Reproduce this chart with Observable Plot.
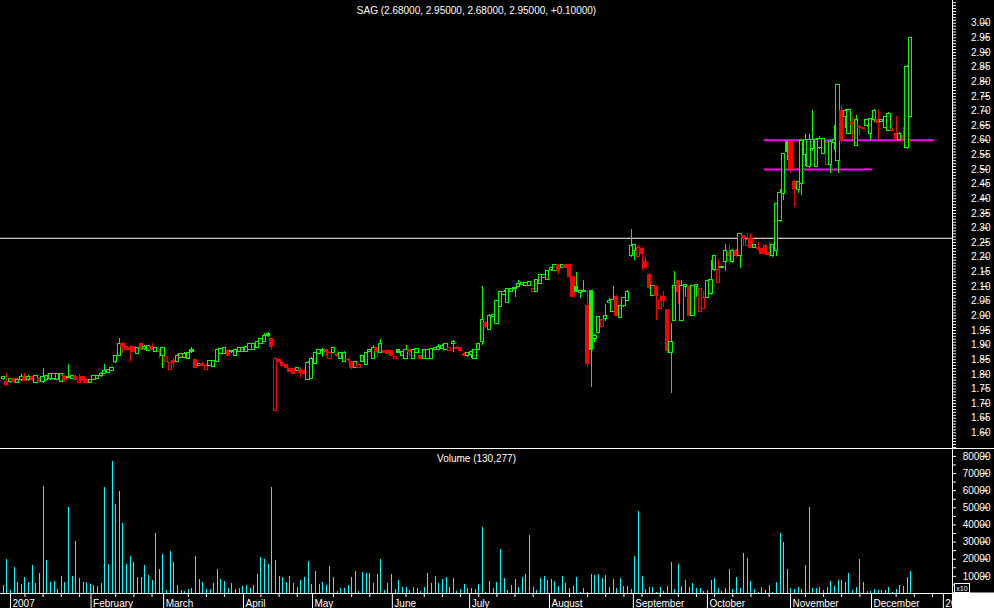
<!DOCTYPE html>
<html><head><meta charset="utf-8">
<script src="https://cdn.jsdelivr.net/npm/d3@7"></script>
<script src="https://cdn.jsdelivr.net/npm/@observablehq/plot@0.6"></script>
<style>
html,body{margin:0;padding:0;background:#000;}
#chart{width:994px;height:608px;overflow:hidden;background:#000;}
#chart svg{display:block;max-width:none;}
</style></head><body><div id="chart"></div><script>
// ---- data ----
const titleText = "SAG (2.68000, 2.95000, 2.68000, 2.95000, +0.10000)";
const volumeTitle = "Volume (130,277)";
// daily candles: [open, high, low, close], one per trading day
const candles = [
[1.785,1.792,1.780,1.790],[1.775,1.802,1.760,1.765],[1.775,1.787,1.770,1.785],[1.783,1.786,1.770,1.775],[1.772,1.785,1.770,1.782],
[1.780,1.800,1.775,1.790],[1.790,1.802,1.774,1.776],[1.780,1.795,1.775,1.790],[1.790,1.792,1.775,1.780],[1.770,1.797,1.768,1.795],
[1.785,1.790,1.770,1.775],[1.775,1.820,1.770,1.790],[1.780,1.797,1.778,1.795],[1.785,1.802,1.780,1.800],[1.785,1.802,1.780,1.800],
[1.780,1.800,1.778,1.800],[1.775,1.800,1.774,1.800],[1.790,1.797,1.773,1.780],[1.788,1.833,1.786,1.790],[1.785,1.797,1.783,1.795],
[1.790,1.795,1.778,1.780],[1.770,1.800,1.768,1.778],[1.790,1.792,1.770,1.776],[1.780,1.782,1.770,1.772],[1.770,1.782,1.768,1.780],
[1.780,1.797,1.778,1.795],[1.785,1.797,1.783,1.795],[1.795,1.805,1.790,1.802],[1.800,1.835,1.798,1.810],[1.805,1.818,1.802,1.815],
[1.813,1.825,1.811,1.822],[1.841,1.866,1.838,1.864],[1.864,1.921,1.862,1.904],[1.904,1.910,1.870,1.893],[1.893,1.896,1.880,1.884],
[1.890,1.898,1.841,1.882],[1.893,1.895,1.876,1.878],[1.870,1.892,1.868,1.890],[1.902,1.904,1.880,1.882],[1.885,1.898,1.883,1.895],
[1.880,1.897,1.878,1.896],[1.893,1.904,1.880,1.882],[1.875,1.892,1.873,1.890],[1.880,1.884,1.853,1.878],[1.864,1.892,1.820,1.890],
[1.842,1.862,1.840,1.860],[1.815,1.842,1.812,1.840],[1.845,1.853,1.824,1.838],[1.841,1.867,1.839,1.864],[1.855,1.872,1.853,1.870],
[1.855,1.873,1.853,1.871],[1.853,1.874,1.851,1.872],[1.884,1.890,1.872,1.875],[1.850,1.852,1.820,1.822],[1.830,1.838,1.828,1.836],
[1.836,1.840,1.826,1.830],[1.815,1.832,1.812,1.828],[1.830,1.846,1.828,1.845],[1.824,1.848,1.822,1.846],[1.841,1.886,1.839,1.884],
[1.870,1.888,1.868,1.886],[1.870,1.892,1.868,1.890],[1.881,1.884,1.862,1.864],[1.875,1.882,1.872,1.880],[1.864,1.886,1.862,1.884],
[1.878,1.892,1.876,1.889],[1.878,1.893,1.876,1.890],[1.875,1.894,1.873,1.892],[1.884,1.906,1.882,1.904],[1.884,1.906,1.882,1.905],
[1.890,1.912,1.888,1.910],[1.904,1.922,1.902,1.921],[1.910,1.940,1.908,1.930],[1.937,1.942,1.926,1.932],[1.921,1.924,1.880,1.893],
[1.676,1.857,1.674,1.853],[1.849,1.851,1.836,1.842],[1.838,1.840,1.828,1.830],[1.833,1.835,1.820,1.822],[1.818,1.820,1.805,1.807],
[1.818,1.820,1.798,1.800],[1.810,1.825,1.808,1.823],[1.815,1.825,1.785,1.805],[1.810,1.815,1.798,1.800],[1.780,1.845,1.778,1.840],
[1.785,1.856,1.783,1.853],[1.836,1.874,1.834,1.872],[1.870,1.886,1.868,1.884],[1.880,1.888,1.856,1.884],[1.884,1.886,1.862,1.875],
[1.853,1.875,1.850,1.872],[1.872,1.893,1.870,1.891],[1.870,1.880,1.862,1.864],[1.853,1.874,1.851,1.872],[1.842,1.878,1.840,1.873],
[1.850,1.853,1.842,1.848],[1.842,1.844,1.815,1.822],[1.822,1.844,1.820,1.842],[1.822,1.834,1.820,1.832],[1.842,1.866,1.840,1.864],
[1.832,1.874,1.830,1.872],[1.876,1.886,1.874,1.884],[1.853,1.900,1.851,1.891],[1.890,1.893,1.856,1.875],[1.872,1.918,1.870,1.904],
[1.881,1.883,1.870,1.872],[1.880,1.885,1.868,1.870],[1.881,1.883,1.860,1.862],[1.853,1.862,1.851,1.860],[1.884,1.886,1.871,1.873],
[1.862,1.878,1.860,1.876],[1.853,1.900,1.851,1.884],[1.884,1.886,1.860,1.875],[1.853,1.886,1.851,1.884],[1.872,1.888,1.870,1.886],
[1.864,1.866,1.851,1.853],[1.853,1.886,1.851,1.884],[1.853,1.886,1.851,1.884],[1.853,1.886,1.851,1.885],[1.884,1.893,1.882,1.890],
[1.884,1.901,1.882,1.895],[1.887,1.901,1.885,1.896],[1.884,1.906,1.882,1.904],[1.881,1.893,1.879,1.891],[1.904,1.914,1.876,1.912],
[1.890,1.895,1.884,1.886],[1.891,1.893,1.879,1.881],[1.870,1.875,1.862,1.864],[1.861,1.874,1.859,1.872],[1.865,1.878,1.853,1.876],
[1.853,1.886,1.851,1.884],[1.884,1.906,1.882,1.904],[1.910,2.100,1.900,1.984],[1.975,1.980,1.958,1.961],[1.952,2.003,1.950,2.001],
[1.995,2.005,1.993,2.003],[1.972,2.054,1.970,2.052],[2.029,2.083,2.027,2.081],[2.070,2.085,2.068,2.082],[2.043,2.094,2.041,2.092],
[2.081,2.094,2.079,2.093],[2.090,2.098,2.064,2.096],[2.100,2.121,2.098,2.109],[2.105,2.115,2.103,2.113],[2.103,2.115,2.100,2.113],
[2.103,2.115,2.100,2.114],[2.081,2.094,2.079,2.092],[2.081,2.125,2.079,2.123],[2.109,2.140,2.107,2.138],[2.130,2.141,2.128,2.139],
[2.123,2.155,2.121,2.153],[2.155,2.166,2.153,2.164],[2.153,2.174,2.151,2.172],[2.172,2.175,2.140,2.153],[2.164,2.177,2.162,2.175],
[2.172,2.174,2.162,2.164],[2.172,2.174,2.130,2.132],[2.132,2.134,2.062,2.064],[2.100,2.149,2.078,2.081],[2.078,2.086,2.060,2.084],
[2.082,2.121,2.080,2.085],[2.032,2.086,1.825,1.836],[2.084,2.086,1.756,1.884],[1.920,1.935,1.910,1.930],[1.941,1.997,1.939,1.995],
[1.963,1.986,1.961,1.984],[1.990,2.040,1.980,2.001],[2.043,2.060,2.041,2.052],[2.012,2.100,2.010,2.053],[2.064,2.070,1.999,2.001],
[1.993,2.034,1.991,2.032],[2.032,2.063,2.030,2.061],[2.052,2.085,2.050,2.083],[2.203,2.294,2.200,2.240],[2.223,2.245,2.190,2.243],
[2.200,2.240,2.198,2.232],[2.229,2.232,2.155,2.212],[2.183,2.200,2.160,2.164],[2.141,2.143,2.090,2.095],[2.069,2.105,2.065,2.103],
[2.100,2.102,1.984,2.069],[2.024,2.070,2.020,2.052],[2.063,2.083,2.030,2.049],[2.020,2.022,1.870,1.881],[1.872,1.972,1.735,1.912],
[1.982,2.151,1.980,2.101],[2.120,2.122,2.040,2.080],[1.982,2.120,1.980,2.103],[2.098,2.105,2.063,2.104],[2.100,2.103,1.998,2.001],
[1.999,2.105,1.997,2.103],[2.100,2.105,2.063,2.104],[2.012,2.095,2.010,2.092],[2.024,2.083,2.020,2.061],[2.061,2.122,2.059,2.120],
[2.073,2.189,2.070,2.121],[2.155,2.205,2.150,2.203],[2.111,2.191,2.109,2.155],[2.164,2.170,2.160,2.166],[2.183,2.243,2.152,2.223],
[2.215,2.243,2.172,2.205],[2.183,2.225,2.180,2.223],[2.223,2.225,2.200,2.203],[2.203,2.282,2.163,2.280],[2.273,2.275,2.238,2.262],
[2.240,2.280,2.238,2.258],[2.263,2.280,2.230,2.232],[2.232,2.245,2.230,2.243],[2.232,2.250,2.220,2.228],[2.229,2.231,2.210,2.212],
[2.240,2.245,2.205,2.210],[2.215,2.250,2.200,2.209],[2.203,2.245,2.200,2.243],[2.221,2.385,2.203,2.383],[2.323,2.430,2.320,2.420],
[2.417,2.556,2.394,2.554],[2.593,2.597,2.530,2.560],[2.593,2.595,2.485,2.502],[2.459,2.461,2.371,2.434],[2.430,2.459,2.417,2.457],
[2.451,2.601,2.411,2.599],[2.550,2.620,2.510,2.600],[2.510,2.620,2.505,2.600],[2.570,2.700,2.560,2.601],[2.510,2.605,2.508,2.602],
[2.574,2.613,2.570,2.603],[2.553,2.605,2.550,2.604],[2.514,2.600,2.512,2.590],[2.514,2.600,2.485,2.593],[2.590,2.650,2.565,2.600],
[2.530,2.790,2.485,2.789],[2.701,2.720,2.590,2.599],[2.681,2.705,2.640,2.701],[2.622,2.705,2.620,2.702],[2.660,2.680,2.600,2.655],
[2.582,2.685,2.580,2.670],[2.645,2.650,2.615,2.642],[2.642,2.645,2.638,2.640],[2.650,2.672,2.645,2.670],[2.622,2.672,2.600,2.671],
[2.670,2.705,2.660,2.701],[2.670,2.700,2.600,2.660],[2.663,2.672,2.660,2.670],[2.642,2.682,2.640,2.679],[2.633,2.695,2.630,2.690],
[2.635,2.640,2.630,2.633],[2.622,2.681,2.598,2.601],[2.601,2.625,2.599,2.622],[2.613,2.645,2.595,2.599],[2.574,2.855,2.570,2.850],
[2.680,2.950,2.680,2.950]
];
// daily volume, in thousands of shares (same order as candles)
const volumeThousands = [
4.7,19.9,1.8,14.9,6.3,5.3,9.6,6.5,16.4,5.7,
11.7,62.5,19.3,6.5,7.1,2.4,10,6.5,50.2,10,
30.4,8.8,6.5,6.5,5.3,4.7,4.3,5.9,61.9,17,
77,52,59.6,40.9,17,21.6,18.2,9.4,9.4,16.4,
10.6,7.6,35,14.1,22.8,1.8,24.6,18.2,4.7,1.8,
1.2,2.4,3.2,21.6,8.2,6.5,2.4,2.4,5.9,14.1,
8.2,7.1,3,5.9,2.4,3,4.1,4.7,3,4.7,
11.2,21,19.9,17,61.9,19.3,10,9.4,6.5,10,
5.9,3.6,7.6,9.4,18.7,5.3,12.9,5.3,6.5,4.7,
15.8,9.4,1.2,3,3,4.7,9.4,12.9,1.2,12.3,
11.7,11.7,5.9,11.2,19.9,1.8,5.9,11.2,2.4,7.6,
3.6,3.6,1.8,3.6,3,1.2,3.6,11.7,5.9,10,
5.9,8.2,9.4,3.6,8.8,1.2,2.4,5.3,3,3,
2.4,5.3,38.5,0.6,7.1,3,6.5,25.7,8.8,1.8,
4.7,8.2,3.6,9.4,11.2,33.9,3.6,1.8,8.8,10,
7.6,8.2,7.1,4.1,10,5.9,3,4.1,9.4,0.5,
3,0.5,11.2,10.6,11.2,8.8,10.6,3.6,8.2,3,
8.8,4.1,4.1,2.4,21.6,47.9,10,2.4,3.6,3.6,
0.5,3.6,1.2,4.1,18.2,2.4,17,4.1,7.6,3.6,
5.9,3,3,1.2,1.8,7.6,8.8,3,1.2,3,
14.1,2.4,9.4,3,23.3,20.4,7.1,2.4,0.5,3.6,
1.8,4.7,0.5,6.5,35,29.8,14.1,3,2.4,3.6,
2.4,16.4,50.2,3,3,3.6,1.8,3.6,7.1,4.1,
7.6,7.6,6.5,11.7,1.8,3.6,19.9,6.5,1.2,1.2,
2.4,1.8,1.8,1.8,3.6,0.5,2.4,4.7,4.1,9.4,
12.9
];
// month ticks on the time axis (position in trading days) and their labels
const monthPos    = [2, 24.2, 44.2, 66.2, 85.2, 107.2, 128.5, 150.5, 173.6, 194, 216.9, 239.2, 259];
const monthLabels = ["2007","February","March","April","May","June","July","August","September","October","November","December","2008"];
// horizontal reference line and drawn support/resistance segments
const refPrice = [2.265];
const levelPrice = [2.60, 2.50];
const levelFrom  = [209.7, 209.7];
const levelTo    = [256.6, 239.5];
// axis tick values
const priceMajor = d3.range(160, 301, 5).map(v => v / 100);
const priceMinor = d3.range(155, 308, 1).map(v => v / 100);
const volMajor = [10000,20000,30000,40000,50000,60000,70000,80000];
const volMinor = d3.range(5000, 85000, 5000);
const xDomain = [-0.744, 261.52];
const priceDomain = [1.5465, 3.0776];
const volDomain = [0, 84600];

// ---- styling ----
const GREEN = "#00ff00", RED = "#ff0000", CYAN = "#00ffff", MAGENTA = "#ff00ff";
const FONT = "'Liberation Sans', Arial, sans-serif";

const bars = candles.map(([open, high, low, close], i) => {
  const prev = i ? candles[i - 1][3] : open;
  const color = close >= prev ? GREEN : RED;
  return {i, open, high, low, close, color, filled: close < open, doji: Math.abs(close - open) < 0.0015};
});
const vols = volumeThousands.map((v, i) => ({i, vol: v * 1000}));
const months = monthPos.map((p, k) => ({p, label: monthLabels[k]}));
const levels = levelPrice.map((p, k) => ({price: p, from: levelFrom[k], to: levelTo[k]}));
const weekPos = d3.range(6, 259, 5).filter(w => !monthPos.some(m => Math.abs(m - w) < 2));

const styleObj = {background: "#000", color: "#fff", fontFamily: FONT, fontSize: "10px", overflow: "visible"};

const pricePlot = Plot.plot({
  width: 994, height: 448,
  marginTop: 0, marginBottom: 0, marginLeft: 0, marginRight: 42,
  style: styleObj,
  x: {domain: xDomain, axis: null, label: null},
  y: {domain: priceDomain, label: null},
  color: {type: "identity"},
  marks: [
    Plot.ruleY(refPrice, {stroke: "#fff"}),
    Plot.ruleY(levels, {y: "price", x1: "from", x2: "to", stroke: MAGENTA, strokeWidth: 2}),
    Plot.ruleX(bars, {x: "i", y1: "low", y2: "high", stroke: "color", shapeRendering: "crispEdges"}),
    Plot.rect(bars.filter(d => !d.doji), {
      x1: d => d.i - 0.45, x2: d => d.i + 0.45, y1: "open", y2: "close",
      fill: d => d.filled ? d.color : "#000", stroke: "color", shapeRendering: "crispEdges"
    }),
    Plot.ruleY(bars.filter(d => d.doji), {y: "close", x1: d => d.i - 0.45, x2: d => d.i + 0.45, stroke: "color"}),
    Plot.ruleX([xDomain[1]], {stroke: "#fff"}),
    Plot.axisY(priceMinor, {anchor: "right", tickSize: 3, tickFormat: () => "", label: null}),
    Plot.axisY(priceMajor, {anchor: "right", tickSize: 7, tickPadding: 3, tickFormat: d3.format(".2f"), textAnchor: "end", dx: 28, fontSize: 10, label: null}),
    Plot.text([titleText], {frameAnchor: "top", dy: 6, fill: "#fff", fontSize: 10})
  ]
});

const volPlot = Plot.plot({
  width: 994, height: 160,
  marginTop: 0, marginBottom: 15, marginLeft: 0, marginRight: 42,
  style: styleObj,
  x: {domain: xDomain, label: null},
  y: {domain: volDomain, label: null},
  marks: [
    Plot.ruleX(vols, {x: "i", y: "vol", stroke: CYAN, shapeRendering: "crispEdges"}),
    Plot.ruleY([0], {stroke: "#fff"}),
    Plot.ruleX([xDomain[1]], {stroke: "#fff"}),
    Plot.axisY(volMinor, {anchor: "right", tickSize: 3, tickFormat: () => "", label: null}),
    Plot.axisY(volMajor, {anchor: "right", tickSize: 7, tickPadding: 3, tickFormat: d => String(d), textAnchor: "end", dx: 28, fontSize: 10, label: null}),
    Plot.axisX(weekPos, {anchor: "bottom", tickSize: 4, tickFormat: () => "", label: null}),
    Plot.axisX(monthPos, {anchor: "bottom", tickSize: 15, tickFormat: () => "", label: null}),
    Plot.text(months, {x: "p", text: "label", frameAnchor: "bottom", dy: 10, dx: 2, textAnchor: "start", lineAnchor: "middle", fill: "#fff", fontSize: 10}),
    Plot.text([volumeTitle], {frameAnchor: "top", dy: 6, fill: "#fff", fontSize: 10})
  ]
});

const root = document.getElementById("chart");
root.append(pricePlot, volPlot);

// panel decorations: separator line, bottom-right corner box and "x10" scale tag
const vs = d3.select(volPlot);
vs.append("line").attr("x1", 0).attr("x2", 994).attr("y1", 0.5).attr("y2", 0.5).attr("stroke", "#fff");
vs.append("rect").attr("x", 952).attr("y", 144.5).attr("width", 42).attr("height", 16).attr("fill", "#fff");
vs.append("rect").attr("x", 954.5).attr("y", 135.5).attr("width", 15).attr("height", 9).attr("fill", "#000").attr("stroke", "#fff");
vs.append("text").attr("x", 962).attr("y", 143).attr("text-anchor", "middle").attr("fill", "#fff")
  .attr("font-size", 7).attr("font-family", FONT).text("x10");
</script></body></html>
